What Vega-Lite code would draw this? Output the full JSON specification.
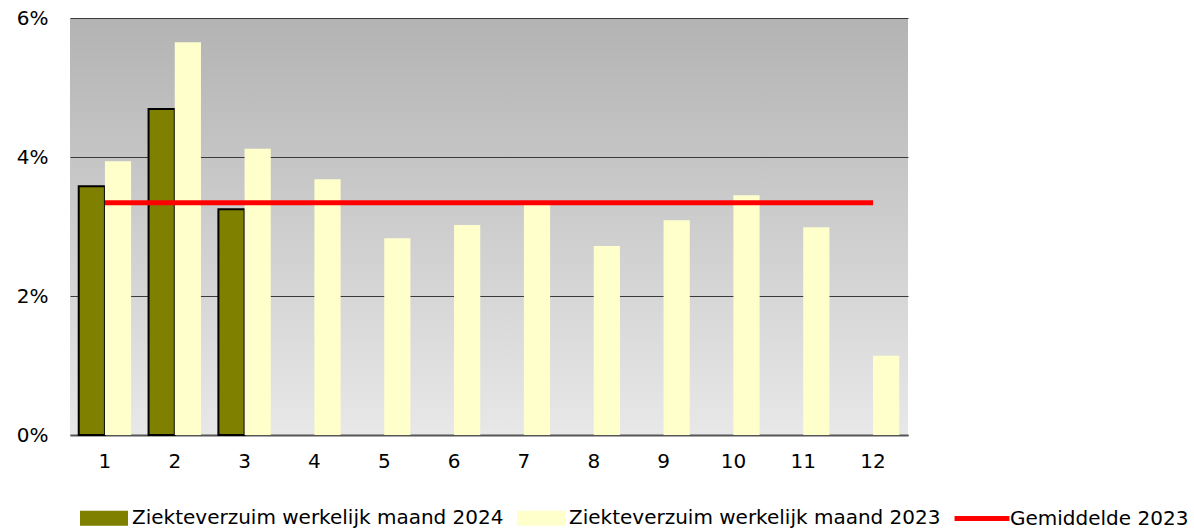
{
  "$schema": "https://vega.github.io/schema/vega-lite/v6.json",
  "width": 838,
  "height": 417,
  "autosize": "none",
  "padding": {"left": 70, "top": 18, "right": 286, "bottom": 96},
  "background": "white",
  "config": {
    "font": "DejaVu Sans",
    "view": {
      "stroke": null,
      "fill": {
        "gradient": "linear",
        "x1": 0, "y1": 0, "x2": 0, "y2": 1,
        "stops": [
          {"offset": 0, "color": "#b3b3b3"},
          {"offset": 1, "color": "#e8e8e8"}
        ]
      }
    }
  },
  "data": {
    "values": [
      {"maand": 1, "series": "Ziekteverzuim werkelijk maand 2024", "waarde": 0.0358},
      {"maand": 2, "series": "Ziekteverzuim werkelijk maand 2024", "waarde": 0.0469},
      {"maand": 3, "series": "Ziekteverzuim werkelijk maand 2024", "waarde": 0.0325},
      {"maand": 1, "series": "Ziekteverzuim werkelijk maand 2023", "waarde": 0.0394},
      {"maand": 2, "series": "Ziekteverzuim werkelijk maand 2023", "waarde": 0.0565},
      {"maand": 3, "series": "Ziekteverzuim werkelijk maand 2023", "waarde": 0.0412},
      {"maand": 4, "series": "Ziekteverzuim werkelijk maand 2023", "waarde": 0.0368},
      {"maand": 5, "series": "Ziekteverzuim werkelijk maand 2023", "waarde": 0.0283},
      {"maand": 6, "series": "Ziekteverzuim werkelijk maand 2023", "waarde": 0.0302},
      {"maand": 7, "series": "Ziekteverzuim werkelijk maand 2023", "waarde": 0.0331},
      {"maand": 8, "series": "Ziekteverzuim werkelijk maand 2023", "waarde": 0.0272},
      {"maand": 9, "series": "Ziekteverzuim werkelijk maand 2023", "waarde": 0.0309},
      {"maand": 10, "series": "Ziekteverzuim werkelijk maand 2023", "waarde": 0.0345},
      {"maand": 11, "series": "Ziekteverzuim werkelijk maand 2023", "waarde": 0.0299},
      {"maand": 12, "series": "Ziekteverzuim werkelijk maand 2023", "waarde": 0.0114},
      {"maand": 1, "series": "Gemiddelde 2023", "waarde": 0.0334},
      {"maand": 12, "series": "Gemiddelde 2023", "waarde": 0.0334}
    ]
  },
  "layer": [
    {
      "transform": [{"filter": "datum.series !== 'Gemiddelde 2023'"}],
      "mark": {"type": "bar"},
      "encoding": {
        "x": {
          "field": "maand", "type": "ordinal",
          "scale": {"paddingInner": 0.25, "paddingOuter": 0.125},
          "axis": {
            "title": null, "labelAngle": 0, "ticks": false,
            "labelFont": "DejaVu Sans", "labelFontSize": 20, "labelColor": "black",
            "labelPadding": 16, "domainColor": "#555555", "domainWidth": 2
          }
        },
        "xOffset": {
          "field": "series", "type": "nominal",
          "sort": ["Ziekteverzuim werkelijk maand 2024", "Ziekteverzuim werkelijk maand 2023"],
          "scale": {"paddingInner": 0, "paddingOuter": 0}
        },
        "y": {
          "field": "waarde", "type": "quantitative",
          "scale": {"domain": [0, 0.06], "nice": false},
          "axis": {
            "title": null, "format": ".0%", "values": [0, 0.02, 0.04, 0.06],
            "ticks": false, "domain": false,
            "grid": true, "gridColor": "#3a3a3a", "gridWidth": 1,
            "labelFont": "DejaVu Sans", "labelFontSize": 20, "labelColor": "black",
            "labelPadding": 22
          }
        },
        "color": {
          "field": "series", "type": "nominal",
          "scale": {
            "domain": ["Ziekteverzuim werkelijk maand 2024", "Ziekteverzuim werkelijk maand 2023", "Gemiddelde 2023"],
            "range": ["#808000", "#ffffcc", "#ff0000"]
          },
          "legend": {
            "orient": "none", "legendX": 10, "legendY": 476,
            "direction": "horizontal", "title": null,
            "labelFont": "DejaVu Sans", "labelFontSize": 20, "labelColor": "black",
            "labelLimit": 0, "labelOffset": 4, "columnPadding": 10,
            "symbolSize": 2116,
            "symbolOpacity": 1,
            "symbolStrokeWidth": 2,
            "symbolType": {"expr": "datum.value === 'Gemiddelde 2023' ? 'M-1.15,-0.06L1.15,-0.06L1.15,0.06L-1.15,0.06Z' : 'M-1,-0.28L1,-0.28L1,0.28L-1,0.28Z'"},
            "symbolStrokeColor": {"expr": "datum.value === 'Gemiddelde 2023' ? '#ff0000' : (datum.value === 'Ziekteverzuim werkelijk maand 2024' ? 'black' : 'transparent')"}
          }
        },
        "stroke": {
          "condition": {"test": "datum.series === 'Ziekteverzuim werkelijk maand 2024'", "value": "black"},
          "value": "transparent"
        },
        "strokeWidth": {"value": 2}
      }
    },
    {
      "transform": [{"filter": "datum.series === 'Gemiddelde 2023'"}],
      "mark": {"type": "line", "strokeWidth": 5},
      "encoding": {
        "x": {"field": "maand", "type": "ordinal"},
        "y": {"field": "waarde", "type": "quantitative"},
        "color": {"field": "series", "type": "nominal", "legend": null}
      }
    }
  ]
}
